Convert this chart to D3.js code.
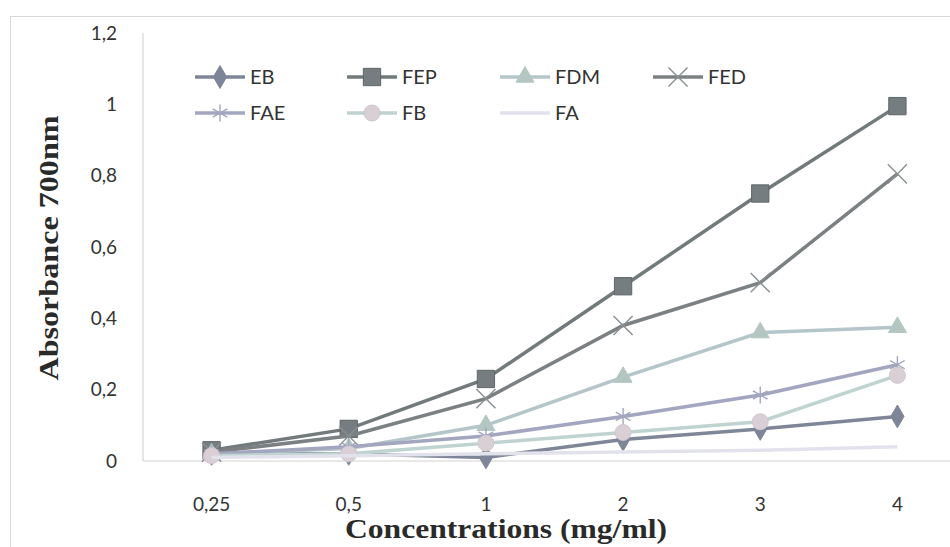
<!DOCTYPE html>
<html>
<head>
<meta charset="utf-8">
<script src="https://cdn.jsdelivr.net/npm/d3@7"></script>
<style>
  body { margin: 0; background: #fff; }
  svg { display: block; }
</style>
</head>
<body>
<svg id="grafico" width="950" height="547"></svg>
<script>
// dados
const concentrations = ["0,25", "0,5", "1", "2", "3", "4"];
const yTicks = [0, 0.2, 0.4, 0.6, 0.8, 1, 1.2];
const seriesNames = ["EB", "FEP", "FDM", "FED", "FAE", "FB", "FA"];
const valEB  = [0.02, 0.02, 0.01, 0.06, 0.09, 0.125];
const valFEP = [0.03, 0.09, 0.23, 0.49, 0.75, 0.995];
const valFDM = [0.02, 0.035, 0.10, 0.235, 0.36, 0.375];
const valFED = [0.025, 0.07, 0.175, 0.38, 0.50, 0.805];
const valFAE = [0.02, 0.04, 0.07, 0.125, 0.185, 0.27];
const valFB  = [0.015, 0.02, 0.05, 0.08, 0.11, 0.24];
const valFA  = [0.01, 0.015, 0.02, 0.025, 0.03, 0.04];
const allValues = [valEB, valFEP, valFDM, valFED, valFAE, valFB, valFA];

const estilos = {
  EB:  {line: "#7f8698", fill: "#7d8598", stroke: "#7d8598", symbol: d3.symbolDiamond, size: 150, open: false},
  FEP: {line: "#727a7c", fill: "#757d80", stroke: "#5f6668", symbol: d3.symbolSquare, size: 300, open: false},
  FDM: {line: "#b4c6ca", fill: "#b3c6c2", stroke: "#b3c6c2", symbol: d3.symbolTriangle, size: 140, open: false},
  FED: {line: "#7b8083", fill: "none", stroke: "#8a8f92", symbol: d3.symbolX, size: 240, open: true},
  FAE: {line: "#a3a6bf", fill: "none", stroke: "#a3a6bf", symbol: d3.symbolAsterisk, size: 200, open: true},
  FB:  {line: "#bfd3d0", fill: "#dbcfd6", stroke: "#cfc6d2", symbol: d3.symbolCircle, size: 200, open: false},
  FA:  {line: "#e2e2ec", fill: "none", stroke: "none", symbol: null, size: 0, open: false}
};

const svg = d3.select("#grafico");

// moldura
svg.append("rect")
  .attr("x", 10.5).attr("y", 16.5).attr("width", 960).attr("height", 560)
  .attr("fill", "none").attr("stroke", "#d9d9d9");

const x = d3.scaleBand().domain(concentrations).range([143, 966]);
const y = d3.scaleLinear().domain([0, 1.2]).range([461, 33]);
const cx = d => x(d) + x.bandwidth() / 2;

// eixos
svg.append("line").attr("x1", 143).attr("x2", 143).attr("y1", y(1.2)).attr("y2", y(0))
  .attr("stroke", "#d4d4d4").attr("stroke-width", 1.2);
svg.append("line").attr("x1", 143).attr("x2", 950).attr("y1", y(0)).attr("y2", y(0))
  .attr("stroke", "#d4d4d4").attr("stroke-width", 1.2);

const fmt = v => String(v).replace(".", ",");
svg.selectAll(".ytick").data(yTicks).enter().append("text")
  .attr("x", 117).attr("y", d => y(d)).attr("dy", "0.35em")
  .attr("text-anchor", "end")
  .style("font-family", "Lato, 'Open Sans', sans-serif").style("font-size", "19px").attr("fill", "#333")
  .text(fmt);

svg.selectAll(".xtick").data(concentrations).enter().append("text")
  .attr("x", cx).attr("y", 511)
  .attr("text-anchor", "middle")
  .style("font-family", "Lato, 'Open Sans', sans-serif").style("font-size", "19px").attr("fill", "#333")
  .text(d => d);

svg.append("text")
  .attr("x", 506).attr("y", 538).attr("text-anchor", "middle")
  .attr("textLength", 322).attr("lengthAdjust", "spacingAndGlyphs")
  .style("font-family", "'Liberation Serif', serif").style("font-weight", "bold").style("font-size", "27px")
  .attr("fill", "#2a2a2a")
  .text("Concentrations (mg/ml)");

svg.append("text")
  .attr("transform", "translate(58,248) rotate(-90)").attr("text-anchor", "middle")
  .attr("textLength", 265).attr("lengthAdjust", "spacingAndGlyphs")
  .style("font-family", "'Liberation Serif', serif").style("font-weight", "bold").style("font-size", "27px")
  .attr("fill", "#2a2a2a")
  .text("Absorbance 700nm");

// linhas
const line = d3.line().x((d, i) => cx(concentrations[i])).y(d => y(d));

function marcador(g, nome, px, py) {
  const e = estilos[nome];
  if (!e.symbol) return;
  g.append("path")
    .attr("d", d3.symbol().type(e.symbol).size(e.size)())
    .attr("transform", "translate(" + px + "," + py + ")")
    .attr("fill", e.open ? "none" : e.fill)
    .attr("stroke", e.stroke)
    .attr("stroke-width", e.open ? 1.4 : 1);
}

seriesNames.forEach((nome, s) => {
  const g = svg.append("g");
  g.append("path")
    .attr("d", line(allValues[s]))
    .attr("fill", "none")
    .attr("stroke", estilos[nome].line)
    .attr("stroke-width", 3.5);
  allValues[s].forEach((v, i) => marcador(g, nome, cx(concentrations[i]), y(v)));
});

// legenda
const legX = [195, 347, 500, 653];
seriesNames.forEach((nome, s) => {
  const lx = legX[s % 4];
  const ly = s < 4 ? 77 : 113;
  const g = svg.append("g");
  g.append("line").attr("x1", lx).attr("x2", lx + 50).attr("y1", ly).attr("y2", ly)
    .attr("stroke", estilos[nome].line).attr("stroke-width", 3.5);
  marcador(g, nome, lx + 25, ly);
  g.append("text").attr("x", lx + 55).attr("y", ly).attr("dy", "0.35em")
    .style("font-family", "Lato, 'Open Sans', sans-serif").style("font-size", "20px").attr("fill", "#333")
    .text(nome);
});
</script>
</body>
</html>
